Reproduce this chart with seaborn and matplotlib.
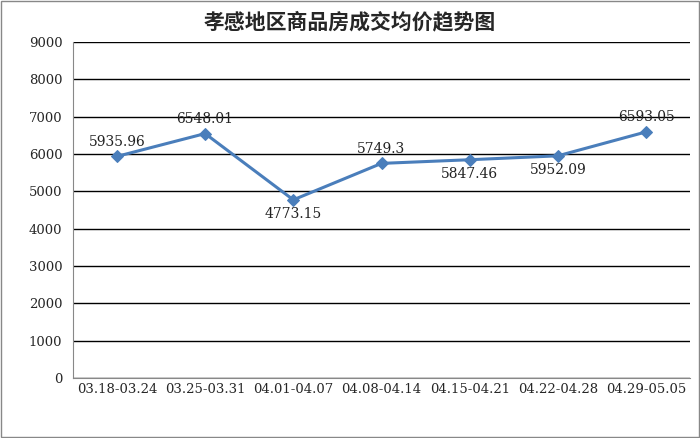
import seaborn as sns
import matplotlib.pyplot as plt
import pandas as pd

weeks = ["03.18-03.24", "03.25-03.31", "04.01-04.07", "04.08-04.14",
         "04.15-04.21", "04.22-04.28", "04.29-05.05"]
prices = [5935.96, 6548.01, 4773.15, 5749.3, 5847.46, 5952.09, 6593.05]
label_text = ["5935.96", "6548.01", "4773.15", "5749.3", "5847.46", "5952.09", "6593.05"]
label_above = [True, True, False, True, False, False, True]

sns.set_style("white")
plt.rcParams['font.family'] = ['Noto Sans CJK SC', 'DejaVu Sans']

df = pd.DataFrame({"week": weeks, "price": prices})
fig = plt.figure(figsize=(7, 4.38), dpi=100)
ax = fig.add_axes([0.104, 0.137, 0.882, 0.767])
ax.set_ylim(0, 9000)
ax.set_yticks(range(0, 9001, 1000))
ax.grid(axis="y", color="black", linewidth=1)
ax.set_axisbelow(True)
sns.lineplot(data=df, x="week", y="price", ax=ax, color="#4a7ebb", linewidth=2.2,
             marker="D", markersize=6, markeredgecolor="#4a7ebb", sort=False)
ax.set_xlim(-0.5, len(weeks) - 0.5)
for i, (v, t, up) in enumerate(zip(prices, label_text, label_above)):
    ax.text(i, v + (390 if up else -390), t, ha="center", va="center",
            fontsize=10, family="DejaVu Serif", color="#222222")
for s in ["top", "right"]:
    ax.spines[s].set_visible(False)
for s in ["left", "bottom"]:
    ax.spines[s].set_color("#888888")
ax.set_xlabel("")
ax.set_ylabel("")
ax.tick_params(axis="both", labelsize=9.5, length=4, direction="out", color="#888888")
ax.tick_params(axis="x", length=0)
for lbl in ax.get_xticklabels() + ax.get_yticklabels():
    lbl.set_family("DejaVu Serif")
fig.text(0.5, 0.95, "孝感地区商品房成交均价趋势图", ha="center", va="center",
         fontsize=15, fontweight="bold")
fig.patches.append(plt.Rectangle((0.002, 0.002), 0.996, 0.996, transform=fig.transFigure,
                                 fill=False, edgecolor="#888888", linewidth=1))
fig.savefig("out.png", dpi=100)
